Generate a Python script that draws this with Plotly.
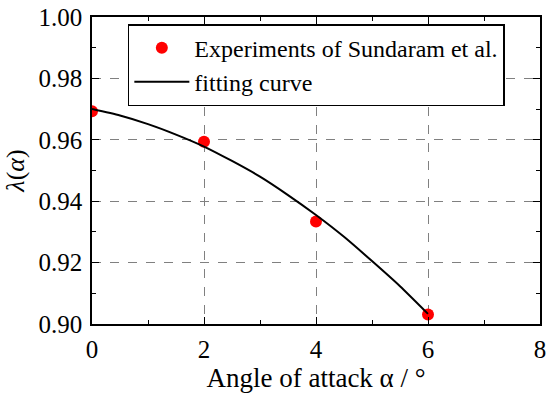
import plotly.graph_objects as go

exp_x = [0, 2, 4, 6]
exp_y = [0.9693, 0.9594, 0.9334, 0.9031]

fit_x = [0, 0.5, 1, 1.5, 2, 2.5, 3, 3.5, 4, 4.5, 5, 5.5, 6]
fit_y = [0.9700, 0.9679, 0.9651, 0.9617, 0.9578, 0.9531, 0.9480, 0.9420,
         0.9355, 0.9284, 0.9205, 0.9123, 0.9033]

x_ticks = [0, 2, 4, 6, 8]
y_ticks = [0.90, 0.92, 0.94, 0.96, 0.98, 1.00]
y_ticklabels = ["0.90", "0.92", "0.94", "0.96", "0.98", "1.00"]

FONT = "Liberation Serif, Times New Roman, serif"

fig = go.Figure()
fig.add_trace(go.Scatter(
    x=exp_x, y=exp_y, mode="markers", name="Experiments of Sundaram et al.",
    marker=dict(color="#ff0000", size=12, line=dict(width=0)),
))
fig.add_trace(go.Scatter(
    x=fit_x, y=fit_y, mode="lines", name="fitting curve",
    line=dict(color="black", width=2, shape="spline", smoothing=0.6),
))

axis_common = dict(
    showline=True, linecolor="black", linewidth=1.5, mirror="allticks",
    ticks="inside", ticklen=7, tickwidth=1.2, tickcolor="black",
    showgrid=True, gridcolor="#808080", griddash="dash", gridwidth=1.2,
    zeroline=False, automargin=False,
    tickfont=dict(family=FONT, size=25, color="black"),
)

fig.update_xaxes(
    range=[0, 8], tickvals=x_ticks, ticklabelstandoff=2,
    minor=dict(ticks="inside", dtick=1, ticklen=4, tickcolor="black", showgrid=False),
    title=dict(text="Angle of attack α / °", font=dict(family=FONT, size=27, color="black"), standoff=2),
    **axis_common,
)
fig.update_yaxes(
    range=[0.90, 1.00], tickvals=y_ticks, ticktext=y_ticklabels, ticklabelstandoff=3,
    minor=dict(ticks="inside", dtick=0.01, ticklen=4, tickcolor="black", showgrid=False),
    title=dict(text="<i>λ</i>(<i>α</i>)", font=dict(family=FONT, size=26, color="black"), standoff=6),
    **axis_common,
)

fig.update_layout(
    width=550, height=397,
    margin=dict(l=92, r=10, t=17, b=73),
    paper_bgcolor="white", plot_bgcolor="white",
    font=dict(family=FONT, size=25, color="black"),
    legend=dict(
        x=0.08, y=0.977, xanchor="left", yanchor="top",
        bgcolor="white", bordercolor="black", borderwidth=1.5,
        font=dict(family=FONT, size=24, color="black"),
        tracegroupgap=0, itemwidth=55,
    ),
    showlegend=True,
)

fig.write_html("out.html", config={"displayModeBar": False},
               post_script="document.body.style.margin='0';")
